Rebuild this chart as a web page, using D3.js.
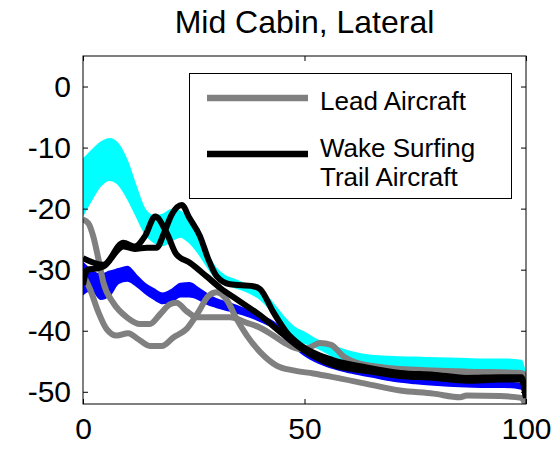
<!DOCTYPE html>
<html>
<head>
<meta charset="utf-8">
<script src="https://cdn.jsdelivr.net/npm/d3@7"></script>
<style>
  html, body { margin: 0; padding: 0; background: #fff; }
  svg { display: block; font-family: "Liberation Sans", Arial, Helvetica, sans-serif; }
</style>
</head>
<body>
<svg id="chart" width="555" height="450"></svg>
<script>
// ---- data ----
const titleText = "Mid Cabin, Lateral";
const xTicks = [0, 50, 100];
const yTicks = [0, -10, -20, -30, -40, -50];
const legendLabels = [["Lead Aircraft"], ["Wake Surfing", "Trail Aircraft"]];

// cyan envelope
const cyanX     = [0, 2, 4, 6, 8, 10, 12, 14, 16, 18, 20, 22, 24, 26, 28, 30, 32, 34, 36, 38, 40, 42, 44, 46, 48, 50, 53, 56, 60, 65, 70, 75, 80, 85, 90, 95, 99, 100];
const cyanUpper = [-12, -10.5, -9.2, -8.6, -9.5, -12.3, -16.5, -20.2, -21.2, -21, -20.2, -20.5, -22.2, -24.6, -27.3, -29.8, -31, -31.6, -32.2, -32.8, -33.5, -34.8, -36.6, -38.3, -39.6, -40.3, -41.6, -42.4, -43.4, -44.1, -44.3, -44.4, -44.5, -44.6, -44.7, -44.7, -44.9, -48];
const cyanLower = [-21, -18.4, -16.2, -15.3, -16, -18.2, -21.1, -24, -25.5, -26, -25.2, -24.6, -25.5, -27.2, -29.4, -31.4, -32.2, -32.8, -33.3, -33.9, -34.8, -36.3, -38.3, -40.2, -41.3, -42, -42.8, -44, -45, -45.9, -46.2, -46.4, -46.5, -46.6, -46.7, -46.7, -46.8, -49];

// blue envelope
const blueX     = [0, 2, 4, 6, 8, 10, 12, 14, 16, 18, 20, 22, 24, 26, 28, 30, 33, 36, 40, 43, 46, 50, 55, 60, 65, 70, 75, 80, 85, 90, 95, 99, 100];
const blueUpper = [-28.9, -30.2, -30.8, -30.3, -29.9, -29.5, -30.9, -32.3, -33.2, -33.9, -33.3, -32.3, -32.2, -33, -34, -34.8, -35.5, -36.3, -37.5, -38.6, -40.6, -43, -44.7, -45.8, -46.6, -47.3, -47.8, -48.1, -48.3, -48.4, -48.5, -48.7, -51.5];
const blueLower = [-34, -33.3, -34.8, -34.2, -32.2, -31.8, -32.6, -33.8, -34.8, -35.5, -35.2, -34.4, -34.4, -34.8, -35.6, -36.1, -36.7, -37.3, -38.4, -39.5, -41.5, -44, -45.8, -46.8, -47.5, -48.2, -48.6, -48.9, -49.1, -49.2, -49.2, -49.5, -52];

// lead aircraft (gray)
const lead1X = [0, 1.2, 2.3, 3.5, 4.6, 6.8, 9.9, 12.9, 15.1, 17.4, 19.6, 21.1, 23.4, 25.7, 29.4, 33.2, 37, 40, 43, 46, 49, 51, 53.5, 56, 58.8, 62.5, 67.8, 79, 86.6, 97.9, 99.3, 100];
const lead1Y = [-21.8, -22.4, -24.5, -28.3, -32.1, -35.4, -37.8, -38.9, -38.9, -37.3, -35.7, -35.4, -36.8, -37.8, -37.8, -37.8, -38.7, -39.5, -40.8, -42.2, -43, -42.8, -42, -42.3, -44.2, -45.4, -46, -46.5, -46.7, -46.9, -47, -51.6];
const lead2X = [0, 1.6, 3.5, 5.3, 7.6, 10.2, 12.5, 15.1, 17.8, 20.4, 23.4, 26, 28.3, 30.2, 32.4, 34.7, 37, 40, 43.7, 47.5, 52, 56.5, 64, 71.6, 79.1, 85.1, 86.6, 94.1, 99, 100];
const lead2Y = [-30.8, -33.2, -37, -39.7, -40.8, -40.4, -41.4, -42.5, -42.5, -41.1, -39.7, -37, -34.3, -33.7, -34.9, -38.1, -40.8, -43.5, -45.7, -46.5, -47, -47.6, -48.7, -49.8, -50.3, -50.9, -50.6, -50.7, -51, -52.5];

// wake surfing trail aircraft (black)
const trail1X = [0, 4.6, 9.1, 11.7, 14, 16.3, 18.9, 21.1, 24.2, 27.9, 31, 35, 40, 45, 49, 56.4, 64, 71.6, 79, 86.7, 94, 99, 100];
const trail1Y = [-28.1, -29.2, -25.6, -26.2, -24.5, -21.3, -24, -27.5, -28.9, -31.1, -33, -35, -37.5, -40.5, -42.8, -45.6, -46.6, -47.4, -47.7, -48.2, -48, -48, -51];
const trail2X = [0, 1, 3, 4.6, 9.1, 11.7, 14.4, 16.6, 18.4, 20, 22.3, 24, 26.4, 28.3, 30.2, 33.2, 38.4, 40, 43, 46, 49, 56.4, 64, 71.6, 79, 86.7, 94, 99, 100];
const trail2Y = [-32.5, -30, -29.8, -29.5, -26.2, -26.6, -26.4, -26.4, -23.8, -21, -19.4, -21.5, -24.5, -28.3, -31.1, -32.4, -32.7, -33.2, -37, -40.3, -42.3, -44.8, -46, -46.9, -47.2, -47.7, -47.6, -47.6, -51];

// ---- layout ----
const svg = d3.select("#chart");
const plot = { left: 83, right: 526, top: 56, bottom: 404 };
const x = d3.scaleLinear().domain([0, 100]).range([plot.left, plot.right]);
const y = d3.scaleLinear().domain([-52, 5]).range([plot.bottom, plot.top]);

svg.append("defs").append("clipPath").attr("id", "plotClip")
  .append("rect")
  .attr("x", plot.left).attr("y", plot.top)
  .attr("width", plot.right - plot.left).attr("height", plot.bottom - plot.top);

const g = svg.append("g").attr("clip-path", "url(#plotClip)");

// envelopes
function band(xs, up, lo, color) {
  const rows = xs.map((v, i) => ({ x: v, u: up[i], l: lo[i] }));
  const area = d3.area().x(d => x(d.x)).y0(d => y(d.l)).y1(d => y(d.u)).curve(d3.curveMonotoneX);
  g.append("path").datum(rows).attr("d", area)
    .attr("fill", color).attr("stroke", color).attr("stroke-width", 2).attr("stroke-linejoin", "round");
}
band(cyanX, cyanUpper, cyanLower, "#00ffff");
band(blueX, blueUpper, blueLower, "#0000ff");

// curves
const line = d3.line().x(d => x(d[0])).y(d => y(d[1])).curve(d3.curveMonotoneX);
function curve(xs, ys, color) {
  g.append("path").datum(xs.map((v, i) => [v, ys[i]])).attr("d", line)
    .attr("fill", "none").attr("stroke", color).attr("stroke-width", 6)
    .attr("stroke-linejoin", "round").attr("stroke-linecap", "butt");
}
curve(lead1X, lead1Y, "#808080");
curve(lead2X, lead2Y, "#808080");
curve(trail1X, trail1Y, "#000000");
curve(trail2X, trail2Y, "#000000");

// ---- axes (boxed, ticks inward) ----
const tickLen = 5;
const plain = d => String(d);   // hyphen-minus labels
const axes = svg.append("g");
axes.append("g").attr("transform", `translate(0,${plot.bottom})`)
  .call(d3.axisBottom(x).tickValues(xTicks).tickSize(-tickLen).tickPadding(14).tickFormat(plain));
axes.append("g").attr("transform", `translate(0,${plot.top})`)
  .call(d3.axisTop(x).tickValues(xTicks).tickSize(-tickLen).tickFormat(""));
axes.append("g").attr("transform", `translate(${plot.left},0)`)
  .call(d3.axisLeft(y).tickValues(yTicks).tickSize(-tickLen).tickPadding(12).tickFormat(plain));
axes.append("g").attr("transform", `translate(${plot.right},0)`)
  .call(d3.axisRight(y).tickValues(yTicks).tickSize(-tickLen).tickFormat(""));
axes.selectAll(".domain").remove();
axes.selectAll(".tick line").attr("stroke", "#000").attr("stroke-width", 1);
axes.selectAll(".tick text").attr("font-size", 30).attr("fill", "#000")
  .attr("font-family", "'Liberation Sans', Arial, sans-serif");
axes.append("rect")
  .attr("x", plot.left).attr("y", plot.top)
  .attr("width", plot.right - plot.left).attr("height", plot.bottom - plot.top)
  .attr("fill", "none").attr("stroke", "#000").attr("stroke-width", 1);

// title
svg.append("text").attr("x", (plot.left + plot.right) / 2).attr("y", 33)
  .attr("text-anchor", "middle").attr("font-size", 32).attr("fill", "#000")
  .text(titleText);

// ---- legend ----
const lg = svg.append("g");
lg.append("rect").attr("x", 189.5).attr("y", 73.5).attr("width", 322).attr("height", 125)
  .attr("fill", "#fff").attr("stroke", "#000").attr("stroke-width", 1);
const legendColors = ["#808080", "#000000"];
const legendLineY = [98, 154];
const legendTextY = [[110], [157, 186]];
legendLabels.forEach((labs, i) => {
  lg.append("line").attr("x1", 207).attr("x2", 308)
    .attr("y1", legendLineY[i]).attr("y2", legendLineY[i])
    .attr("stroke", legendColors[i]).attr("stroke-width", 6.5);
  labs.forEach((t, j) => {
    lg.append("text").attr("x", 320).attr("y", legendTextY[i][j])
      .attr("font-size", 26).attr("fill", "#000").text(t);
  });
});
</script>
</body>
</html>
